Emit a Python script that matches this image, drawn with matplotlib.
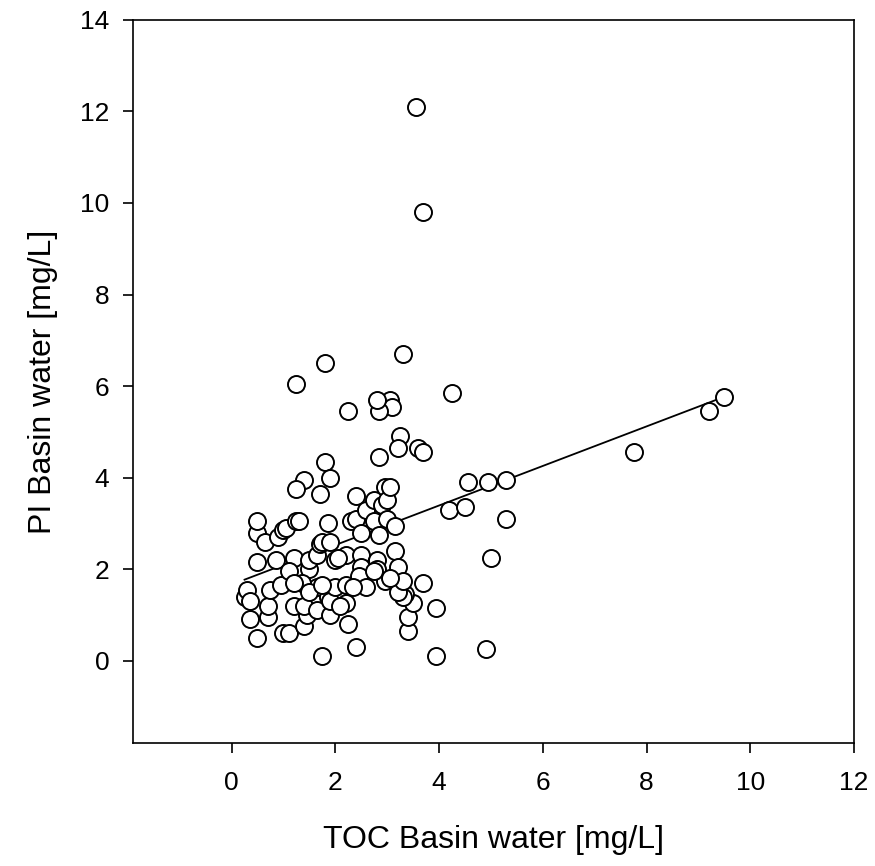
import numpy as np
import matplotlib.pyplot as plt

plt.rcParams['font.family'] = ['Liberation Sans', 'DejaVu Sans']

# TOC vs PI in basin water
toc = [3.55, 3.70, 3.30, 1.80, 1.25, 4.25, 2.25, 3.05, 3.10, 2.85, 2.80,
       3.60, 3.70, 3.25, 3.20, 2.85, 1.80, 1.40, 1.90, 1.25, 1.70,
       4.55, 4.95, 5.30, 4.20, 4.50, 5.30, 7.75, 9.20, 9.50, 5.00,
       4.90, 3.95, 3.95, 3.70, 3.40, 3.40, 3.50, 3.35, 3.30, 2.40,
       1.75, 0.50, 1.00, 1.10, 0.35, 0.70, 0.25, 0.30, 0.35, 0.70,
       0.75, 0.50, 0.50, 0.50, 0.65, 0.85, 0.95, 0.90, 1.00, 1.05,
       1.20, 1.25, 1.30, 1.20, 1.40, 1.45, 1.40, 1.65, 1.90, 2.20,
       2.25, 1.50, 1.50, 1.65, 1.70, 1.75, 1.85, 1.65, 1.85, 1.90,
       2.00, 2.10, 2.00, 2.20, 2.20, 2.30, 2.40, 2.40, 2.50, 2.50,
       2.50, 2.45, 2.60, 2.35, 2.60, 2.75, 2.75, 2.80, 2.80, 2.85,
       2.90, 2.95, 3.00, 3.00, 3.05, 3.15, 3.15, 3.20, 3.20, 3.30,
       2.95, 2.75, 3.05, 1.90, 2.05, 1.35, 1.10, 1.20, 1.50, 1.75]
pi = [12.10, 9.80, 6.70, 6.50, 6.05, 5.85, 5.45, 5.70, 5.55, 5.45, 5.70,
      4.65, 4.55, 4.90, 4.65, 4.45, 4.35, 3.95, 4.00, 3.75, 3.65,
      3.90, 3.90, 3.95, 3.30, 3.35, 3.10, 4.55, 5.45, 5.75, 2.25,
      0.25, 0.10, 1.15, 1.70, 0.65, 0.95, 1.25, 1.45, 1.40, 0.30,
      0.10, 0.50, 0.60, 0.60, 0.90, 0.95, 1.40, 1.55, 1.30, 1.20,
      1.55, 2.15, 2.80, 3.05, 2.60, 2.20, 1.65, 2.70, 2.85, 2.90,
      2.25, 3.05, 3.05, 1.20, 0.75, 1.00, 1.20, 1.10, 1.00, 1.25,
      0.80, 2.00, 2.20, 2.30, 2.55, 2.60, 3.00, 1.60, 1.40, 1.30,
      1.60, 1.20, 2.20, 1.65, 2.30, 3.05, 3.10, 3.60, 2.80, 2.30,
      2.05, 1.85, 1.60, 1.60, 3.30, 3.50, 3.05, 2.20, 2.00, 2.75,
      3.40, 3.80, 3.50, 3.10, 3.80, 2.95, 2.40, 2.05, 1.50, 1.75,
      1.75, 1.95, 1.80, 2.60, 2.25, 1.70, 1.95, 1.70, 1.50, 1.65]

toc = np.array(toc)
pi = np.array(pi)

# linear regression
slope, intercept = np.polyfit(toc, pi, 1)
xfit = np.array([toc.min(), toc.max()])
yfit = intercept + slope * xfit

fig = plt.figure(figsize=(8.75, 8.66), dpi=100)
ax = fig.add_axes([0.152, 0.142, 0.824, 0.835])

ax.plot(xfit, yfit, color='black', lw=1.3, zorder=2)
ax.scatter(toc, pi, s=150, facecolors='white', edgecolors='black',
           linewidths=1.4, zorder=3)

ax.set_xlim(-1.9, 12)
ax.set_ylim(-1.8, 14)
ax.set_xticks(np.arange(0, 13, 2))
ax.set_yticks(np.arange(0, 15, 2))

ax.tick_params(direction='out', length=7, width=1.2, labelsize=19,
               top=False, right=False)
ax.tick_params(axis='x', pad=13)
ax.tick_params(axis='y', pad=10)
for sp in ax.spines.values():
    sp.set_linewidth(1.2)

ax.set_xlabel('TOC Basin water [mg/L]', fontsize=23, labelpad=22)
ax.set_ylabel('PI Basin water [mg/L]', fontsize=23, labelpad=16)

fig.savefig('out.png', dpi=100)
